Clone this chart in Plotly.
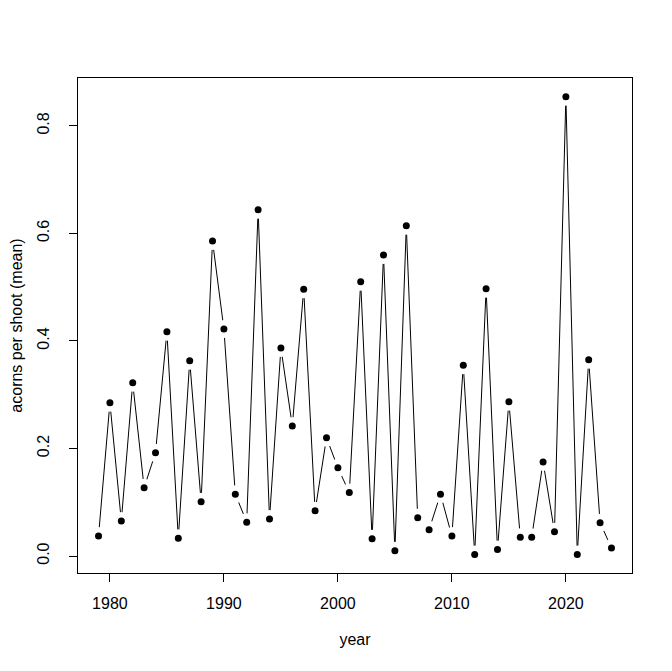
"""Acorn counts per shoot by year, drawn like an R type="b" plot."""

import plotly.graph_objects as go

years = list(range(1979, 2025))
acorns_mean = [
    0.037, 0.285, 0.065, 0.322, 0.127, 0.192, 0.417, 0.033, 0.363, 0.101,
    0.586, 0.422, 0.115, 0.063, 0.644, 0.069, 0.387, 0.242, 0.496, 0.084,
    0.220, 0.164, 0.118, 0.510, 0.032, 0.560, 0.010, 0.614, 0.071, 0.049,
    0.115, 0.037, 0.355, 0.003, 0.497, 0.012, 0.287, 0.035, 0.035, 0.175,
    0.045, 0.854, 0.003, 0.365, 0.062, 0.015,
]
x_ticks = [1980, 1990, 2000, 2010, 2020]
y_ticks = [0.0, 0.2, 0.4, 0.6, 0.8]

FONT = "Liberation Sans, Arial, sans-serif"

fig = go.Figure()

# connecting line
fig.add_trace(go.Scatter(
    x=years, y=acorns_mean, mode="lines",
    line=dict(color="black", width=1),
    hoverinfo="skip", showlegend=False,
))
# white discs cut the gaps round each point (type="b")
fig.add_trace(go.Scatter(
    x=years, y=acorns_mean, mode="markers",
    marker=dict(color="white", size=18, line=dict(width=0)),
    hoverinfo="skip", showlegend=False,
))
fig.add_trace(go.Scatter(
    x=years, y=acorns_mean, mode="markers",
    marker=dict(color="black", size=7, line=dict(width=0)),
    showlegend=False,
))

axis_common = dict(
    showgrid=False, zeroline=False, automargin=False,
    showline=True, linecolor="black", linewidth=1, mirror=True,
    ticks="outside", ticklen=8, tickwidth=1, tickcolor="black",
    tickfont=dict(family=FONT, size=16, color="black"),
)

# page body adds an 8px offset, so margins are shifted to compensate
fig.update_layout(
    width=672, height=671,
    margin=dict(l=70, r=48, t=70, b=106),
    paper_bgcolor="white", plot_bgcolor="white",
    font=dict(family=FONT, size=16, color="black"),
    xaxis=dict(
        range=[1977.2, 2025.8], tickvals=x_ticks,
        ticklabelstandoff=8,
        title=dict(text="year", standoff=22,
                   font=dict(family=FONT, size=16, color="black")),
        **axis_common,
    ),
    yaxis=dict(
        range=[-0.0316, 0.889], tickvals=y_ticks,
        tickformat=".1f", tickangle=-90,
        ticklabelstandoff=14,
        title=dict(text="acorns per shoot (mean)", standoff=21,
                   font=dict(family=FONT, size=16, color="black")),
        **axis_common,
    ),
)

fig.write_html("out.html")
